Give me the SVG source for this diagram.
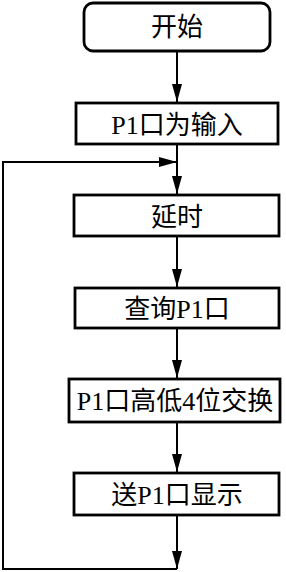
<svg xmlns="http://www.w3.org/2000/svg" width="286" height="572" viewBox="0 0 286 572">
<defs>
<style>
.box{fill:#fff;stroke:#000;stroke-width:2.8}
.t{font-family:"Noto Sans CJK SC",sans-serif;font-size:26px;fill:#000;text-anchor:middle}
.l{font-family:"Liberation Serif",serif}
.c{fill:none;stroke:#000;stroke-width:2}
</style>
<marker id="a" markerUnits="userSpaceOnUse" markerWidth="18" markerHeight="12" viewBox="0 0 18 12" refX="18" refY="6" orient="auto">
<path d="M0,1 L18,6 L0,11 Z" fill="#000"/>
</marker>
</defs>
<g id="connectors">
<line class="c" x1="177" y1="51" x2="177" y2="102" marker-end="url(#a)"/>
<line class="c" x1="177" y1="144" x2="177" y2="194" marker-end="url(#a)"/>
<line class="c" x1="177" y1="236" x2="177" y2="287" marker-end="url(#a)"/>
<line class="c" x1="177" y1="328" x2="177" y2="378" marker-end="url(#a)"/>
<line class="c" x1="177" y1="422" x2="177" y2="472" marker-end="url(#a)"/>
<line class="c" x1="177" y1="515" x2="177" y2="569" marker-end="url(#a)"/>
<polyline class="c" points="177,569 3,569 3,162 160,162"/>
<line class="c" x1="150" y1="162" x2="177" y2="162" marker-end="url(#a)"/>
</g>
<g id="start">
<rect class="box" x="84" y="3" width="186" height="48" rx="9"/>
<text class="t" x="177" y="36">开始</text>
</g>
<g id="init">
<rect class="box" x="76" y="103" width="202" height="41"/>
<text class="t" x="177" y="134"><tspan class="l">P1</tspan>口为输入</text>
</g>
<g id="delay">
<rect class="box" x="74" y="195" width="205" height="41"/>
<text class="t" x="177" y="226">延时</text>
</g>
<g id="query">
<rect class="box" x="75" y="288" width="204" height="40"/>
<text class="t" x="177" y="318">查询<tspan class="l">P1</tspan>口</text>
</g>
<g id="swap">
<rect class="box" x="69" y="379" width="211" height="43"/>
<text class="t" x="175" y="410"><tspan class="l">P1</tspan>口高低<tspan class="l">4</tspan>位交换</text>
</g>
<g id="show">
<rect class="box" x="74" y="473" width="205" height="42"/>
<text class="t" x="177" y="504">送<tspan class="l">P1</tspan>口显示</text>
</g>
</svg>
